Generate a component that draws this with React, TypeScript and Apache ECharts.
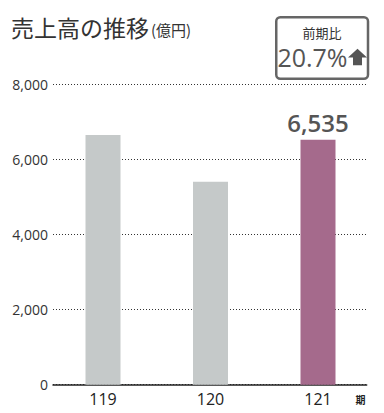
import React, { useEffect, useRef } from "react";
import * as echarts from "echarts";

const categories = ["119", "120", "121"];
const salesValues = [6659, 5414, 6535];
const highlightIndex = 2;
const yTicks = { min: 0, max: 8000, interval: 2000 };
const titleText = "売上高の推移";
const unitText = "(億円)";
const badgeTitle = "前期比";
const badgeValue = "20.7%";
const periodUnit = "期";

const FONT = "'Open Sans', 'Noto Sans CJK JP', sans-serif";
const JP = "'Noto Sans CJK JP', sans-serif";

export default function App() {
  const ref = useRef<HTMLDivElement>(null);
  useEffect(() => {
    document.body.style.margin = "0";
    const chart = echarts.init(ref.current!, null, { renderer: "svg" });
    const fmt = (v: number) => v.toLocaleString("en-US");
    chart.setOption({
      animation: false,
      backgroundColor: "#ffffff",
      grid: [
        { left: 53, right: 17.3, top: 84.7, bottom: 28.3 },
        { left: 49.25, right: 12.25, top: 84.7, bottom: 28.3 },
      ],
      xAxis: [
        {
          type: "category",
          gridIndex: 0,
          data: categories,
          axisLine: { show: true, lineStyle: { color: "#222", width: 1.5 } },
          axisTick: { show: false },
          axisLabel: { show: false },
          splitLine: { show: false },
        },
        {
          type: "category",
          gridIndex: 1,
          data: categories,
          axisLine: { show: false },
          axisTick: { show: false },
          axisLabel: {
            color: "#222",
            fontSize: 16,
            fontFamily: FONT,
            margin: 6,
          },
        },
      ],
      yAxis: [
        {
          type: "value",
          gridIndex: 0,
          min: yTicks.min,
          max: yTicks.max,
          interval: yTicks.interval,
          axisLine: { show: false },
          axisTick: { show: false },
          axisLabel: {
            color: "#333",
            fontSize: 14,
            fontFamily: FONT,
            margin: 5,
            formatter: (v: number) => fmt(v),
          },
          splitLine: {
            show: true,
            lineStyle: { color: "#333", width: 1, type: [1, 2] },
          },
        },
        {
          type: "value",
          gridIndex: 1,
          min: yTicks.min,
          max: yTicks.max,
          interval: yTicks.interval,
          show: false,
          splitLine: { show: false },
        },
      ],
      series: [
        {
          type: "bar",
          xAxisIndex: 1,
          yAxisIndex: 1,
          barWidth: 35,
          data: salesValues.map((v, i) =>
            i === highlightIndex
              ? {
                  value: v,
                  itemStyle: { color: "#a56a8c" },
                  label: {
                    show: true,
                    position: "top",
                    distance: 5,
                    formatter: (p: any) => fmt(p.value),
                    color: "#555",
                    fontSize: 24,
                    fontWeight: 600,
                    fontFamily: FONT,
                  },
                }
              : { value: v, itemStyle: { color: "#c5c9c9" } }
          ),
        },
      ],
      graphic: [
        {
          type: "text",
          x: 11,
          y: 27,
          style: {
            text: titleText,
            font: `400 23px ${JP}`,
            fill: "#333",
            verticalAlign: "middle",
          },
        },
        {
          type: "text",
          x: 151,
          y: 29,
          style: {
            text: unitText,
            font: `400 15px ${JP}`,
            fill: "#333",
            verticalAlign: "middle",
          },
        },
        {
          type: "rect",
          shape: { x: 276.25, y: 17.25, width: 91.75, height: 61.5, r: 4 },
          style: { fill: "#fff", stroke: "#666", lineWidth: 2.5 },
        },
        {
          type: "text",
          x: 322,
          y: 32,
          style: {
            text: badgeTitle,
            font: `400 13px ${JP}`,
            fill: "#333",
            align: "center",
            verticalAlign: "middle",
          },
        },
        {
          type: "text",
          x: 347.5,
          y: 57,
          style: {
            text: badgeValue,
            font: `400 25px ${FONT}`,
            fill: "#555",
            align: "right",
            verticalAlign: "middle",
          },
        },
        {
          type: "polygon",
          shape: {
            points: [
              [357.5, 48.7],
              [367, 57.5],
              [362, 57.5],
              [362, 65.3],
              [353, 65.3],
              [353, 57.5],
              [348, 57.5],
            ],
          },
          style: { fill: "#555" },
        },
        {
          type: "text",
          x: 360.5,
          y: 399,
          style: {
            text: periodUnit,
            font: `700 10px ${JP}`,
            fill: "#222",
            align: "center",
            verticalAlign: "middle",
          },
        },
      ],
    });
    return () => chart.dispose();
  }, []);
  return <div ref={ref} style={{ width: 384, height: 413 }} />;
}
